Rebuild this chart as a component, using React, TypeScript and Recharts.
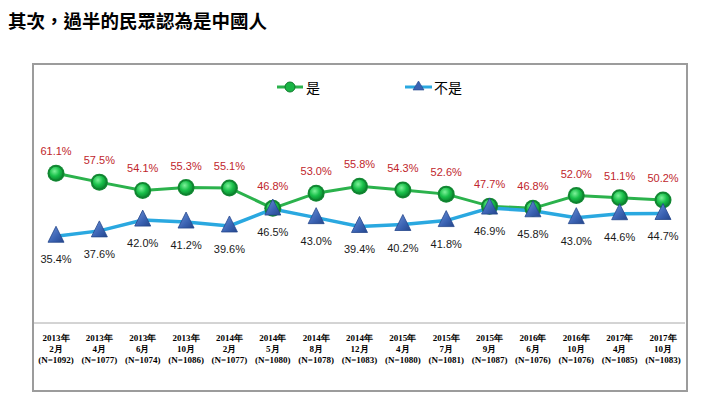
import React from "react";
import { LineChart, Line, XAxis, YAxis, LabelList, Legend } from "recharts";

const years = ["2013年", "2013年", "2013年", "2013年", "2014年", "2014年", "2014年", "2014年", "2015年", "2015年", "2015年", "2016年", "2016年", "2017年", "2017年"];
const months = ["2月", "4月", "6月", "10月", "2月", "5月", "8月", "12月", "4月", "7月", "9月", "6月", "10月", "4月", "10月"];
const samples = ["(N=1092)", "(N=1077)", "(N=1074)", "(N=1086)", "(N=1077)", "(N=1080)", "(N=1078)", "(N=1083)", "(N=1080)", "(N=1081)", "(N=1087)", "(N=1076)", "(N=1076)", "(N=1085)", "(N=1083)"];
const yes = [61.1, 57.5, 54.1, 55.3, 55.1, 46.8, 53.0, 55.8, 54.3, 52.6, 47.7, 46.8, 52.0, 51.1, 50.2];
const no = [35.4, 37.6, 42.0, 41.2, 39.6, 46.5, 43.0, 39.4, 40.2, 41.8, 46.9, 45.8, 43.0, 44.6, 44.7];

const data = years.map((y, i) => ({
  idx: i,
  year: y,
  month: months[i],
  n: samples[i],
  yes: yes[i],
  no: no[i],
}));

const GREEN = "#2bb24c";
const BLUE = "#2aa8e0";

const CircleDot = (props: any) => {
  const { cx, cy, index } = props;
  if (cx == null || cy == null) return null;
  const id = `gd${index}`;
  return (
    <g>
      <defs>
        <radialGradient id={id} cx="40%" cy="35%" r="65%">
          <stop offset="0%" stopColor="#7ef29a" />
          <stop offset="55%" stopColor="#19c04a" />
          <stop offset="100%" stopColor="#0a8a30" />
        </radialGradient>
      </defs>
      <circle cx={cx} cy={cy} r={8.5} fill="#138a34" />
      <circle cx={cx} cy={cy} r={7} fill={`url(#${id})`} stroke="#0f7a2c" strokeWidth={0.8} />
    </g>
  );
};

const TriDot = (props: any) => {
  const { cx, cy, index } = props;
  if (cx == null || cy == null) return null;
  const id = `bd${index}`;
  return (
    <g>
      <defs>
        <linearGradient id={id} x1="0" y1="0" x2="1" y2="1">
          <stop offset="0%" stopColor="#6f93d8" />
          <stop offset="60%" stopColor="#3a62b2" />
          <stop offset="100%" stopColor="#24468c" />
        </linearGradient>
      </defs>
      <path
        d={`M${cx},${cy - 10} L${cx + 8},${cy + 6} L${cx - 8},${cy + 6} Z`}
        fill={`url(#${id})`}
        stroke="#24468c"
        strokeWidth={0.8}
        strokeLinejoin="round"
      />
    </g>
  );
};

const makeLabel = (dy: number, color: string) => (props: any) => {
  const { x, y, value } = props;
  return (
    <text
      x={x}
      y={y + dy}
      textAnchor="middle"
      dominantBaseline="central"
      fill={color}
      fontSize={11}
      fontFamily="'Liberation Sans', Arial, sans-serif"
    >
      {Number(value).toFixed(1)}%
    </text>
  );
};

const AxisTick = (props: any) => {
  const { x, y, payload } = props;
  const d = data[payload.value];
  const style = {
    fontFamily: "'Liberation Serif', 'Times New Roman', serif",
    fontWeight: 700,
    fontSize: 9,
    fill: "#000",
  } as any;
  return (
    <g>
      <text x={x} y={y + 15} textAnchor="middle" dominantBaseline="central" {...style}>{d.year}</text>
      <text x={x} y={y + 26} textAnchor="middle" dominantBaseline="central" {...style}>{d.month}</text>
      <text x={x} y={y + 37} textAnchor="middle" dominantBaseline="central" {...style}>{d.n}</text>
    </g>
  );
};

const LegendContent = () => (
  <svg width={703} height={24}>
    <line x1={277} y1={12} x2={303} y2={12} stroke={GREEN} strokeWidth={3} />
    <circle cx={290} cy={12} r={5} fill="#19b444" stroke="#0f7a2c" strokeWidth={1} />
    <text x={306} y={12} dominantBaseline="central" fontSize={14} fontFamily="'Noto Sans CJK TC', sans-serif" fill="#000">是</text>
    <line x1={405} y1={12} x2={432} y2={12} stroke={BLUE} strokeWidth={3} />
    <path d="M418.5,6 L424,15 L413,15 Z" fill="#3a62b2" stroke="#24468c" strokeWidth={0.6} />
    <text x={434} y={12} dominantBaseline="central" fontSize={14} fontFamily="'Noto Sans CJK TC', sans-serif" fill="#000">不是</text>
  </svg>
);

export default function App() {
  return (
    <div style={{ position: "absolute", left: 0, top: 0, width: 703, height: 399, background: "#fff", overflow: "hidden" }}>
      <div
        style={{
          position: "absolute",
          left: 8,
          top: 7,
          fontFamily: "'Noto Sans CJK TC', sans-serif",
          fontWeight: 700,
          fontSize: 18.5,
          lineHeight: "26px",
          color: "#000",
          whiteSpace: "nowrap",
        }}
      >
        其次，過半的民眾認為是中國人
      </div>
      <div
        style={{
          position: "absolute",
          left: 32,
          top: 63,
          width: 652,
          height: 325,
          border: "2px solid #9c9c9c",
        }}
      />
      <div style={{ position: "absolute", left: 0, top: 0 }}>
        <LineChart width={703} height={399} data={data} margin={{ top: 78, right: 18, bottom: 16, left: 34 }}>
          <XAxis
            dataKey="idx"
            type="category"
            interval={0}
            height={60}
            padding={{ left: 22, right: 22 }}
            tick={<AxisTick />}
            tickLine={false}
            tickSize={0}
            tickMargin={0}
            axisLine={{ stroke: "#a8a8a8", strokeWidth: 1 }}
          />
          <YAxis hide domain={[0, 100]} />
          <Legend
            verticalAlign="middle"
            align="center"
            layout="horizontal"
            content={<LegendContent />}
            wrapperStyle={{ top: 75, left: 0, width: 703, height: 24 }}
          />
          <Line
            dataKey="yes"
            name="是"
            stroke={GREEN}
            strokeWidth={3}
            dot={<CircleDot />}
            activeDot={false}
            isAnimationActive={false}
          >
            <LabelList dataKey="yes" content={makeLabel(-22, "#c0262c")} />
          </Line>
          <Line
            dataKey="no"
            name="不是"
            stroke={BLUE}
            strokeWidth={3.5}
            dot={<TriDot />}
            activeDot={false}
            isAnimationActive={false}
          >
            <LabelList dataKey="no" content={makeLabel(23, "#1a1a1a")} />
          </Line>
        </LineChart>
      </div>
    </div>
  );
}
